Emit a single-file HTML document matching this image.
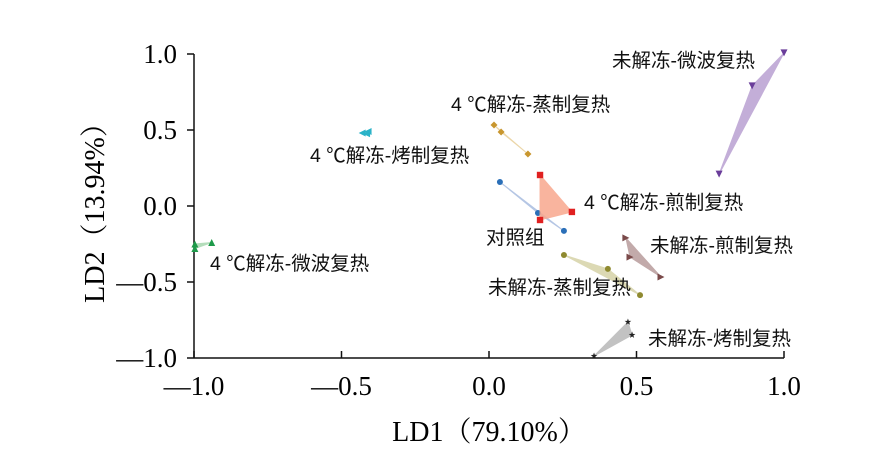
<!DOCTYPE html>
<html><head><meta charset="utf-8"><style>
body{margin:0;background:#fff;}
svg text{font-family:"Liberation Serif","Noto Serif CJK SC",serif;}
.lab{font-family:"Liberation Sans","Noto Sans CJK SC",sans-serif;font-size:19.5px;fill:#111;}
</style></head><body>
<svg id="c" width="890" height="458" xmlns="http://www.w3.org/2000/svg"></svg>
<script>
const groupNames=["对照组","4 ℃解冻-煎制复热","4 ℃解冻-蒸制复热","4 ℃解冻-烤制复热","4 ℃解冻-微波复热","未解冻-微波复热","未解冻-煎制复热","未解冻-蒸制复热","未解冻-烤制复热"];
const groupX=[[0.037,0.166,0.254],[0.173,0.281,0.173],[0.017,0.041,0.132],[-0.43,-0.415,-0.41],[-0.997,-0.997,-0.94],[1.0,0.892,0.78],[0.464,0.478,0.583],[0.254,0.403,0.512],[0.471,0.485,0.356]];
const groupY=[[0.158,-0.046,-0.164],[0.204,-0.039,-0.092],[0.533,0.487,0.342],[0.48,0.475,0.49],[-0.25,-0.28,-0.24],[1.007,0.79,0.21],[-0.21,-0.336,-0.467],[-0.322,-0.414,-0.586],[-0.763,-0.849,-0.987]];
const markerColors=["#2a6fb8","#e02020","#c8962e","#2bb3c8","#1e9a4a","#6a3d9a","#7a4a4a","#8f8a30","#222"];
const fillColors=["#a9bde0","#f8a88e","#e8cf9a","#9edde6","#a8d8b0","#b9a0d2","#b89c9c","#d6d3a8","#b8b8b8"];
const markers=["circle","square","diamond","left","up","down","right","circle","star"];
const labelX=[486,584,451,310,210,612,650,488,648];
const labelY=[243,208,110,161,269,66,251,293,344];
const xTicks=[-1.0,-0.5,0.0,0.5,1.0];
const yTicks=[1.0,0.5,0.0,-0.5,-1.0];
const xTickLabels=["—1.0","—0.5","0.0","0.5","1.0"];
const yTickLabels=["1.0","0.5","0.0","—0.5","—1.0"];
const X=v=>489+v*295, Y=v=>206-v*152;
const svg=document.getElementById('c'), NS="http://www.w3.org/2000/svg";
function mk(t,a,p){const e=document.createElementNS(NS,t);for(const k in a)e.setAttribute(k,a[k]);(p||svg).appendChild(e);return e;}
let ax=mk('line',{x1:194,y1:Y(1),x2:194,y2:358,stroke:'#111','stroke-width':1.5});


ax=mk('line',{x1:194,y1:358,x2:X(1),y2:358,stroke:'#111','stroke-width':1.5});


xTicks.forEach((v,i)=>{
 mk('line',{x1:X(v),y1:358,x2:X(v),y2:351,stroke:'#111','stroke-width':1.5});
 const t=mk('text',{x:X(v),y:395,'text-anchor':'middle','font-size':27});t.textContent=xTickLabels[i];
 
 
});
yTicks.forEach((v,i)=>{
 mk('line',{x1:194,y1:Y(v),x2:187,y2:Y(v),stroke:'#111','stroke-width':1.5});
 const t=mk('text',{x:177,y:Y(v)+9,'text-anchor':'end','font-size':27});t.textContent=yTickLabels[i];
 
 
});
let t=mk('text',{x:489,y:441,'text-anchor':'middle','font-size':28});t.textContent="LD1（79.10%）";


t=mk('text',{x:0,y:0,'text-anchor':'middle','font-size':28,transform:'translate(104,206) rotate(-90)'});t.textContent="LD2（13.94%）";


function marker(kind,x,y,c,g){const s=3.5;
 if(kind==='circle')return mk('circle',{cx:x,cy:y,r:3,fill:c},g);
 if(kind==='square')return mk('rect',{x:x-3.2,y:y-3.2,width:6.4,height:6.4,fill:c},g);
 let p;
 if(kind==='diamond')p=[[x,y-s],[x+s,y],[x,y+s],[x-s,y]];
 if(kind==='up')p=[[x,y-s],[x+s,y+s],[x-s,y+s]];
 if(kind==='down')p=[[x,y+s],[x+s,y-s],[x-s,y-s]];
 if(kind==='left')p=[[x-s,y],[x+s,y-s],[x+s,y+s]];
 if(kind==='right')p=[[x+s,y],[x-s,y-s],[x-s,y+s]];
 if(kind==='star'){p=[];for(let k=0;k<10;k++){const r=k%2?1.4:3.5,a=-Math.PI/2+k*Math.PI/5;p.push([x+r*Math.cos(a),y+r*Math.sin(a)]);}}
 return mk('polygon',{points:p.map(q=>q.join(',')).join(' '),fill:c},g);}
groupNames.forEach((n,i)=>{
 const g=mk('g',{});
 
 
 const pts=groupX[i].map((v,j)=>X(v)+','+Y(groupY[i][j])).join(' ');
 const poly=mk('polygon',{points:pts,fill:fillColors[i],stroke:fillColors[i],'stroke-width':1,opacity:0.85},g);
 
 
 groupX[i].forEach((v,j)=>{const m=marker(markers[i],X(v),Y(groupY[i][j]),markerColors[i],g);
  
  });
 const l=mk('text',{x:labelX[i],y:labelY[i]+1,class:'lab'});l.textContent=n;
 
 
});
</script>
</body></html>
